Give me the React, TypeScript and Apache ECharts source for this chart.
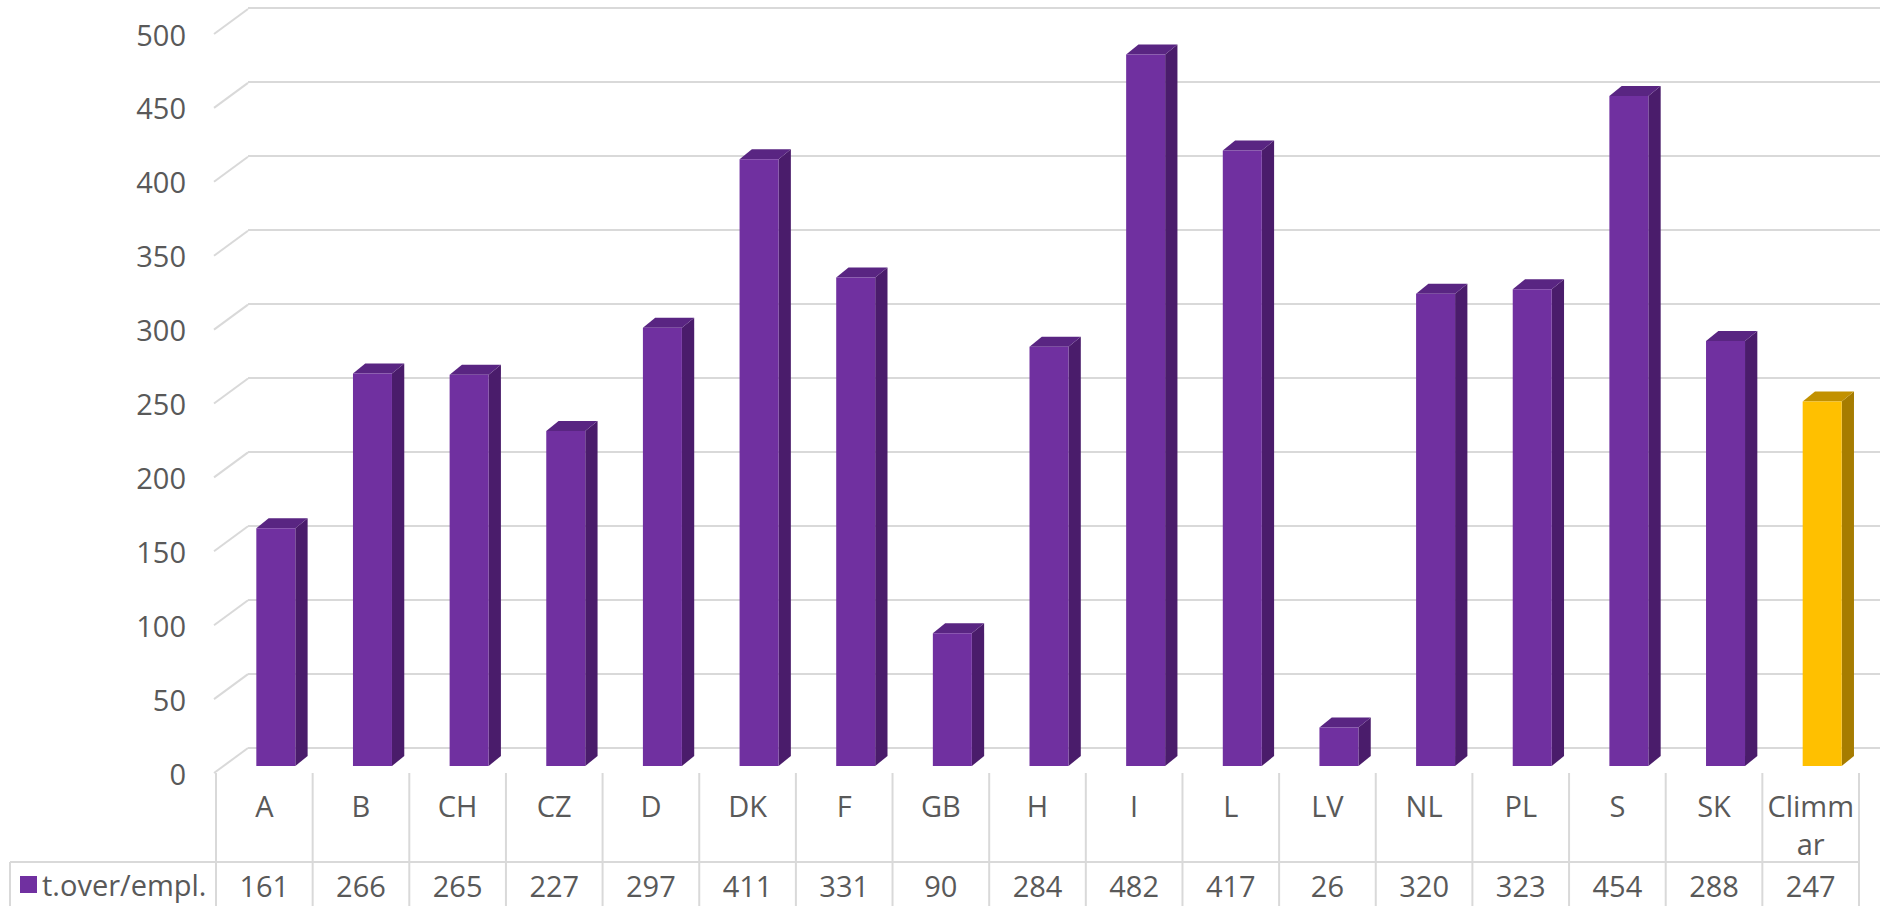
import React, { useEffect, useRef } from "react";
import * as echarts from "echarts";

// ---- data ----
const categories = ["A", "B", "CH", "CZ", "D", "DK", "F", "GB", "H", "I", "L", "LV", "NL", "PL", "S", "SK", "Climmar"];
const values = [161, 266, 265, 227, 297, 411, 331, 90, 284, 482, 417, 26, 320, 323, 454, 288, 247];
const seriesName = "t.over/empl.";
const highlightCategory = "Climmar";
const yTicks = [0, 50, 100, 150, 200, 250, 300, 350, 400, 450, 500];
const yMin = 0;
const yMax = 500;
const yInterval = 50;

// ---- styles ----
const FONT = "Open Sans";
const FONT_SIZE = 29;
const TEXT_COLOR = "#595959";
const LINE_COLOR = "#d9d9d9";
const PURPLE = { front: "#7030A0", side: "#4A1C6B", top: "#592582" };
const GOLD = { front: "#FFC000", side: "#A67C00", top: "#C29100" };
const BAR_W = 39;
const FRONT_SHIFT = 11.5;
const DEPTH_X = 12.3;
const DEPTH_Y = 10;
const WALL_DX = 34;
const WALL_DY = 25;

export default function App() {
  const ref = useRef<HTMLDivElement>(null);

  useEffect(() => {
    if (!ref.current) return;
    const chart = echarts.init(ref.current, undefined, { renderer: "svg" });

    const barData = values.map((v, i) => [i, v]);
    const tableData = categories.map((_, i) => [i, 0]);
    const tickData = yTicks.map((t) => [0, t]);

    const option: any = {
      animation: false,
      textStyle: { fontFamily: FONT },
      legend: {
        data: [seriesName],
        left: 20,
        top: 870,
        padding: 0,
        icon: "rect",
        itemWidth: 17,
        itemHeight: 17,
        selectedMode: false,
        textStyle: { fontSize: FONT_SIZE, color: TEXT_COLOR, fontFamily: FONT },
      },
      grid: [
        { left: 216, right: 21, top: 28, bottom: 140 },
        { left: 248, right: 0, top: 8, bottom: 158 },
        { left: 214, right: 21, top: 34, bottom: 133 },
      ],
      xAxis: [
        {
          type: "category",
          gridIndex: 0,
          data: categories,
          position: "bottom",
          axisLine: { show: false },
          axisTick: { show: false },
          splitLine: { show: false },
          axisLabel: {
            interval: 0,
            margin: 20,
            fontSize: FONT_SIZE,
            lineHeight: 38,
            color: TEXT_COLOR,
            fontFamily: FONT,
            width: 92,
            overflow: "breakAll",
          },
        },
        {
          type: "category",
          gridIndex: 0,
          data: categories,
          position: "bottom",
          offset: 0,
          axisLine: { show: false },
          axisTick: { show: false },
          splitLine: { show: false },
          axisLabel: {
            interval: 0,
            margin: 100,
            fontSize: FONT_SIZE,
            lineHeight: 38,
            color: TEXT_COLOR,
            fontFamily: FONT,
            formatter: (_: string, idx: number) => String(values[idx]),
          },
        },
        { type: "value", gridIndex: 1, min: 0, max: 1, show: false },
        { type: "value", gridIndex: 2, min: 0, max: 1, show: false },
      ],
      yAxis: [
        { type: "value", gridIndex: 0, min: yMin, max: yMax, interval: yInterval, show: false },
        {
          type: "value",
          gridIndex: 1,
          min: yMin,
          max: yMax,
          interval: yInterval,
          axisLine: { show: false },
          axisTick: { show: false },
          axisLabel: { show: false },
          splitLine: { show: true, lineStyle: { color: LINE_COLOR, width: 2 } },
        },
        {
          type: "value",
          gridIndex: 2,
          min: yMin,
          max: yMax,
          interval: yInterval,
          axisLine: { show: false },
          axisTick: { show: false },
          splitLine: { show: false },
          axisLabel: { margin: 28, fontSize: FONT_SIZE, color: TEXT_COLOR, fontFamily: FONT },
        },
      ],
      series: [
        {
          type: "custom",
          name: "wall-diagonals",
          xAxisIndex: 3,
          yAxisIndex: 2,
          silent: true,
          data: tickData,
          encode: { x: 0, y: 1 },
          renderItem: (_p: any, api: any) => {
            const p = api.coord([0, api.value(1)]);
            return {
              type: "line",
              shape: { x1: p[0], y1: p[1], x2: p[0] + WALL_DX, y2: p[1] - WALL_DY },
              style: { stroke: LINE_COLOR, lineWidth: 2 },
            };
          },
        },
        {
          type: "custom",
          name: "table",
          xAxisIndex: 0,
          yAxisIndex: 0,
          silent: true,
          data: tableData,
          encode: { x: 0, y: 1 },
          renderItem: (params: any, api: any) => {
            const i = api.value(0);
            const c = api.coord([i, 0]);
            const bw = api.size([1, 0])[0];
            const left = c[0] - bw / 2;
            const right = c[0] + bw / 2;
            const yTop = c[1] + 7;
            const yRow = c[1] + 96;
            const yBottom = api.getHeight() + 2;
            const st = { stroke: LINE_COLOR, lineWidth: 2 };
            const children: any[] = [
              { type: "line", shape: { x1: left, y1: yTop, x2: left, y2: yBottom }, style: st },
              { type: "line", shape: { x1: left, y1: yRow, x2: right, y2: yRow }, style: st },
            ];
            if (i === categories.length - 1) {
              children.push({ type: "line", shape: { x1: right, y1: yTop, x2: right, y2: yBottom }, style: st });
            }
            if (i === 0) {
              children.push({ type: "line", shape: { x1: 10, y1: yRow, x2: left, y2: yRow }, style: st });
              children.push({ type: "line", shape: { x1: 10, y1: yRow, x2: 10, y2: yBottom }, style: st });
            }
            return { type: "group", children };
          },
        },
        {
          type: "custom",
          name: seriesName,
          xAxisIndex: 0,
          yAxisIndex: 0,
          silent: true,
          z: 5,
          itemStyle: { color: PURPLE.front },
          data: barData,
          encode: { x: 0, y: 1 },
          renderItem: (_p: any, api: any) => {
            const i = api.value(0);
            const v = api.value(1);
            const base = api.coord([i, 0]);
            const top = api.coord([i, v]);
            const fx = base[0] + FRONT_SHIFT - BAR_W / 2;
            const col = categories[i] === highlightCategory ? GOLD : PURPLE;
            const yT = top[1];
            const yB = base[1];
            return {
              type: "group",
              children: [
                {
                  type: "polygon",
                  shape: {
                    points: [
                      [fx + BAR_W, yT],
                      [fx + BAR_W + DEPTH_X, yT - DEPTH_Y],
                      [fx + BAR_W + DEPTH_X, yB - DEPTH_Y],
                      [fx + BAR_W, yB],
                    ],
                  },
                  style: { fill: col.side },
                },
                {
                  type: "polygon",
                  shape: {
                    points: [
                      [fx, yT],
                      [fx + DEPTH_X, yT - DEPTH_Y],
                      [fx + BAR_W + DEPTH_X, yT - DEPTH_Y],
                      [fx + BAR_W, yT],
                    ],
                  },
                  style: { fill: col.top },
                },
                {
                  type: "rect",
                  shape: { x: fx, y: yT, width: BAR_W, height: yB - yT },
                  style: { fill: col.front },
                },
              ],
            };
          },
        },
      ],
    };

    chart.setOption(option);
    return () => chart.dispose();
  }, []);

  return (
    <div
      ref={ref}
      style={{ position: "fixed", left: 0, top: 0, width: 1880, height: 906, background: "#ffffff" }}
    />
  );
}
